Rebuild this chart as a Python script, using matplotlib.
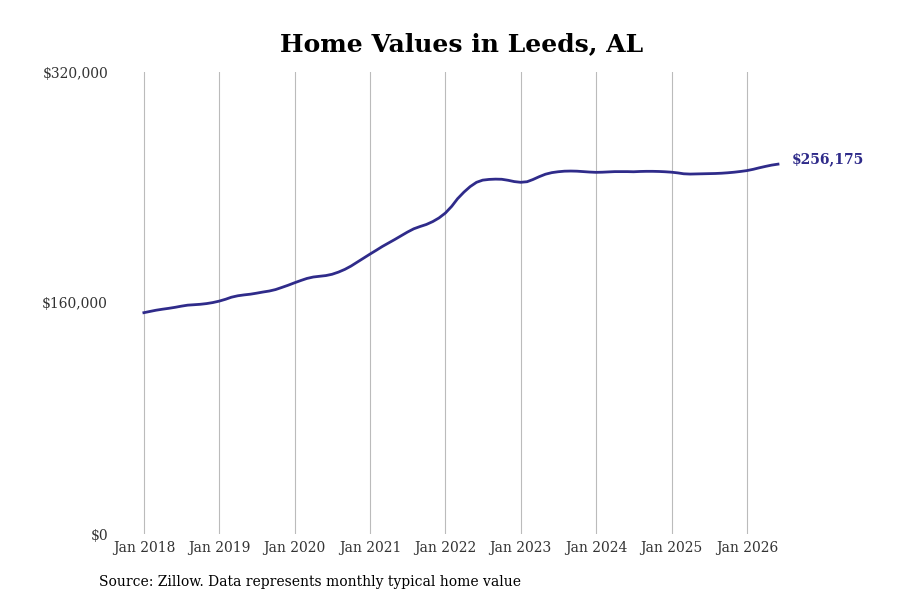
import matplotlib
matplotlib.use("Agg")
import matplotlib.pyplot as plt
import numpy as np
import pandas as pd

# monthly typical home value, Jan 2018 - Jun 2026
values = [
    153300, 154200, 155000, 155700, 156300, 157000, 157800, 158500, 158800, 159100, 159600, 160300,
    161300, 162600, 164000, 165000, 165600, 166100, 166800, 167600, 168300, 169300, 170800, 172300,
    174000, 175600, 177000, 178000, 178500, 179000, 179900, 181400, 183300, 185600, 188400, 191100,
    193900, 196600, 199100, 201600, 204000, 206600, 209100, 211400, 213000, 214400, 216400, 218900,
    222300, 227000, 232200, 236800, 240600, 243600, 245100, 245600, 245800, 245700, 245000, 244100,
    243600, 244000, 245500, 247500, 249200, 250300, 250900, 251300, 251400, 251300, 251000, 250700,
    250500, 250600, 250800, 251000, 251000, 251000, 250900, 251100, 251200, 251200, 251100, 250900,
    250600, 250100, 249500, 249300, 249400, 249500, 249600, 249700, 249900, 250200, 250600, 251100,
    251700, 252600, 253600, 254600, 255500, 256175,
]
dates = pd.date_range("2018-01-01", periods=len(values), freq="MS")
year_ticks = pd.date_range("2018-01-01", "2026-01-01", freq="YS")
y_ticks = [0, 160000, 320000]
last_label = "$256,175"

plt.rcParams["font.family"] = ["DejaVu Serif"]
line_color = "#2f2b8a"

fig = plt.figure(figsize=(9, 6), dpi=100)
ax = fig.add_axes([115 / 900, 66 / 600, 670 / 900, 462 / 600])

ax.plot(dates, values, color=line_color, linewidth=2)

ax.set_ylim(0, 320000)
ax.set_xlim(pd.Timestamp("2017-08-14"), pd.Timestamp("2026-07-05"))
ax.set_yticks(y_ticks)
ax.set_yticklabels([f"${v:,.0f}" for v in y_ticks])
ax.set_xticks(year_ticks)
ax.set_xticklabels([d.strftime("Jan %Y") for d in year_ticks])
ax.tick_params(axis="both", length=0, labelsize=10, colors="#333333")
ax.tick_params(axis="y", pad=5)
ax.tick_params(axis="x", pad=5)
ax.grid(axis="x", color="#bbbbbb", linewidth=0.8)
ax.grid(axis="y", visible=False)
for s in ax.spines.values():
    s.set_visible(False)

ax.annotate(last_label, xy=(dates[-1], values[-1]), xytext=(10, 3.5),
            textcoords="offset points", va="center", ha="left",
            fontsize=10, fontweight="bold", color=line_color)

fig.text(0.513, 0.927, "Home Values in Leeds, AL", ha="center", va="center",
         fontsize=18, fontweight="bold")
fig.text(99 / 900, 1 - 582 / 600, "Source: Zillow. Data represents monthly typical home value",
         ha="left", va="center", fontsize=10)

fig.savefig("out.png", dpi=100)
